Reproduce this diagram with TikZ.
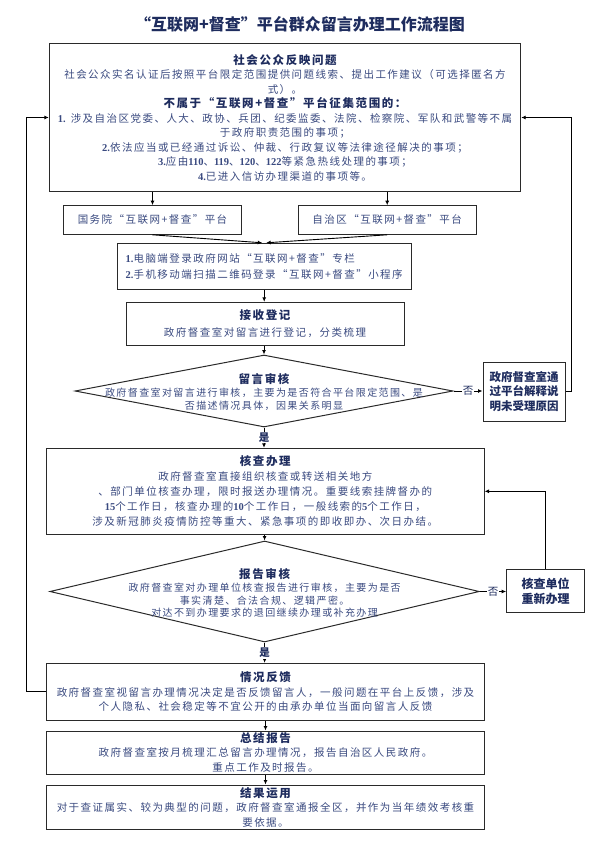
\documentclass[tikz,border=0pt]{standalone}
\usepackage{fontspec}
\setmainfont{Noto Sans CJK SC}
\newfontfamily\bodyf[LetterSpace=14]{Noto Sans CJK SC}
\newfontfamily\latf{Liberation Serif}
\usetikzlibrary{shapes.geometric,arrows.meta}
\definecolor{navy}{HTML}{1E2C5E}
\definecolor{bodyc}{HTML}{3A4A80}
\definecolor{edgec}{HTML}{2A2A2A}
\newcommand\hdf{\fontsize{11.5}{14.5}\selectfont\bfseries\color{navy}}
\newcommand\nm[1]{{\latf\bfseries #1}}
\tikzset{
  box/.style={draw=edgec, line width=1pt, inner sep=0pt, align=center, fill=white},
  dia/.style={draw=edgec, line width=1pt, shape=diamond, inner sep=0pt},
  txt/.style={font=\bodyf\fontsize{10.5}{14.5}\selectfont, text=bodyc, align=center},
  dtxt/.style={font=\bodyf\fontsize{10}{12.5}\selectfont, text=bodyc, align=center, inner sep=0pt},
  arr/.style={draw=black, line width=0.9pt, -{Latex[length=4.5pt,width=4pt]}},
  lbl/.style={fill=white, inner sep=1pt, text=navy, font=\fontsize{10.5}{12}\selectfont},
}
\begin{document}
\begin{tikzpicture}[x=1pt,y=-1pt]
\useasboundingbox (0,0) rectangle (600,848);

\node[font=\fontsize{16}{18}\selectfont\bfseries, text=navy] (title) at (300,24) {“互联网+督查”平台群众留言办理工作流程图};

\node[box, txt, minimum width=471.4, minimum height=148.4] (b1) at (285,117.5) {%
{\hdf 社会公众反映问题}\\
社会公众实名认证后按照平台限定范围提供问题线索、提出工作建议（可选择匿名方\\
式）。\\
{\hdf 不属于“互联网+督查”平台征集范围的：}\\
\nm{1.} 涉及自治区党委、人大、政协、兵团、纪委监委、法院、检察院、军队和武警等不属\\
于政府职责范围的事项；\\
\nm{2.}依法应当或已经通过诉讼、仲裁、行政复议等法律途径解决的事项；\\
\nm{3.}应由\nm{110}、\nm{119}、\nm{120}、\nm{122}等紧急热线处理的事项；\\
\nm{4.}已进入信访办理渠道的事项等。};

\node[box, txt, minimum width=178.4, minimum height=28.6] (p1) at (152.5,220) {国务院“互联网+督查”平台};
\node[box, txt, minimum width=177.7, minimum height=28.6] (p2) at (387.2,220) {自治区“互联网+督查”平台};

\node[box, txt, align=left, minimum width=293.7, minimum height=46.4] (b3) at (264.2,266.5) {%
\nm{1.}电脑端登录政府网站“互联网+督查”专栏\\[2pt]
\nm{2.}手机移动端扫描二维码登录“互联网+督查”小程序};

\node[box, txt, minimum width=278, minimum height=42.7] (b4) at (265,323.7) {%
{\hdf 接收登记}\\[2pt]
政府督查室对留言进行登记，分类梳理};

\node[dia, minimum width=378, minimum height=72] (d1) at (264,391) {};
\node[dtxt] (t1) at (264,392) {%
{\hdf 留言审核}\\[1pt]
政府督查室对留言进行审核，主要为是否符合平台限定范围、是\\
否描述情况具体，因果关系明显};

\node[box, minimum width=82, minimum height=59, font=\hdf, text=navy] (r1) at (524,391.5) {政府督查室通\\过平台解释说\\明未受理原因};

\node[box, txt, font=\bodyf\fontsize{10.5}{15}\selectfont, minimum width=437.5, minimum height=86] (b5) at (265.3,491.3) {%
{\hdf 核查办理}\\
政府督查室直接组织核查或转送相关地方\\
、部门单位核查办理，限时报送办理情况。重要线索挂牌督办的\\
\nm{15}个工作日，核查办理的\nm{10}个工作日，一般线索的\nm{5}个工作日，\\
涉及新冠肺炎疫情防控等重大、紧急事项的即收即办、次日办结。};

\node[dia, minimum width=429.4, minimum height=101] (d2) at (264.6,591.5) {};
\node[dtxt] (t2) at (264.6,593) {%
{\hdf 报告审核}\\[1pt]
政府督查室对办理单位核查报告进行审核，主要为是否\\
事实清楚、合法合规、逻辑严密。\\
对达不到办理要求的退回继续办理或补充办理};

\node[box, minimum width=77.6, minimum height=42.7, font=\fontsize{12}{15}\selectfont\bfseries, text=navy] (r2) at (545.5,591.3) {核查单位\\重新办理};

\node[box, txt, minimum width=438, minimum height=56.7] (b6) at (265.5,691.7) {%
{\hdf 情况反馈}\\
政府督查室视留言办理情况决定是否反馈留言人，一般问题在平台上反馈，涉及\\
个人隐私、社会稳定等不宜公开的由承办单位当面向留言人反馈};

\node[box, txt, minimum width=438, minimum height=43] (b7) at (265.5,752.5) {%
{\hdf 总结报告}\\
政府督查室按月梳理汇总留言办理情况，报告自治区人民政府。\\
重点工作及时报告。};

\node[box, txt, minimum width=438, minimum height=44] (b8) at (265.5,807) {%
{\hdf 结果运用}\\
对于查证属实、较为典型的问题，政府督查室通报全区，并作为当年绩效考核重\\
要依据。};

\coordinate (lx) at (26,0);
\coordinate (rx) at (571,0);

\draw[arr] (b1.south -| p1.north) -- (p1.north);
\draw[arr] (b1.south -| p2.north) -- (p2.north);
\draw[arr] (p1.south) -- ([xshift=-2pt]b3.north);
\draw[arr] (p2.south) -- ([xshift=2pt]b3.north);
\draw[arr] (b3.south) -- (b3.south |- b4.north);
\draw[arr] (b4.south -| d1.north) -- (d1.north);
\draw[arr] (d1.south) -- node[lbl, font=\fontsize{10.5}{12}\selectfont\bfseries]{是} (d1.south |- b5.north);
\draw[arr] (d1.east) -- node[lbl]{否} (d1.east -| r1.west);
\draw[arr] (b5.south -| d2.north) -- (d2.north);
\draw[arr] (d2.east) -- node[lbl]{否} (d2.east -| r2.west);
\draw[arr] (r2.north) |- (b5.east);
\draw[arr] (d2.south) -- node[lbl, font=\fontsize{10.5}{12}\selectfont\bfseries]{是} (d2.south |- b6.north);
\draw[arr] (b6.south) -- (b7.north);
\draw[arr] (b7.south) -- (b8.north);
\draw[arr] (b6.west) -- (b6.west -| lx) -- (b1.west -| lx) -- (b1.west);
\draw[arr] (r1.east) -- (r1.east -| rx) -- (b1.east -| rx) -- (b1.east);
\end{tikzpicture}
\end{document}
